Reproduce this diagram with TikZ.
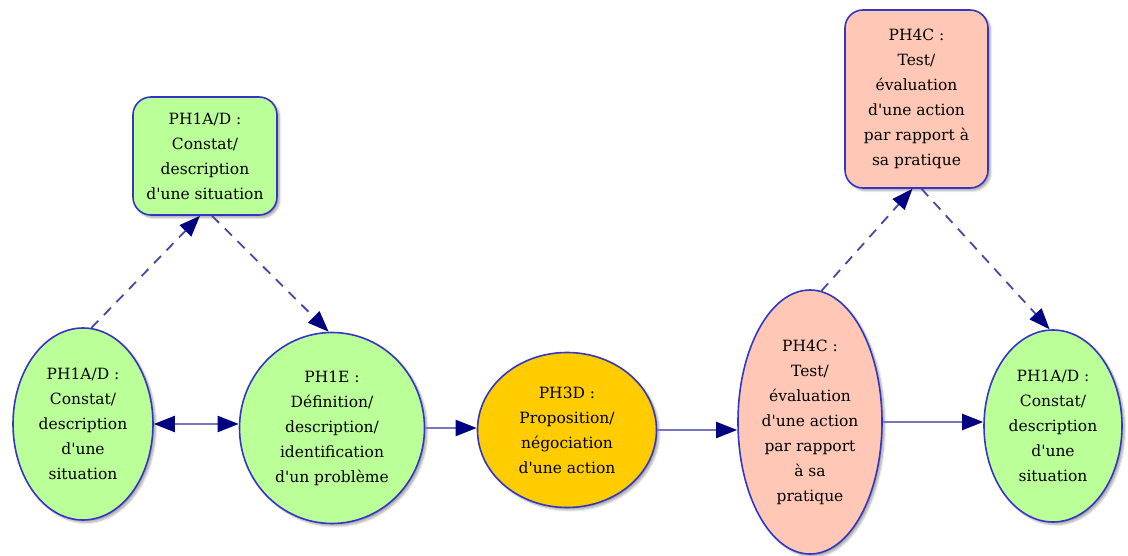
\documentclass[tikz,border=0pt]{standalone}
\usepackage{fontspec}
\setmainfont{DejaVu Serif}
\usetikzlibrary{shapes.geometric,arrows.meta,shadows.blur}
\definecolor{phgreen}{HTML}{BBFF99}
\definecolor{phorange}{HTML}{FFCC00}
\definecolor{phpink}{HTML}{FFC8B6}
\definecolor{phborder}{HTML}{3535C4}
\definecolor{phline}{HTML}{7676BC}
\definecolor{phdash}{HTML}{4848A0}
\definecolor{phhead}{HTML}{000080}
\newcommand{\apq}{\textquotesingle}
\tikzset{
  phase/.style={draw=phborder, line width=1.6pt, align=center,
    inner xsep=-20pt, inner ysep=-20pt,
    font=\fontsize{15.5}{25}\selectfont,
    blur shadow={shadow xshift=2.5pt, shadow yshift=-2.5pt,
      shadow blur steps=6, shadow opacity=35}},
  oval/.style={phase, ellipse},
  card/.style={phase, rectangle, rounded corners=18pt},
  head/.tip={Triangle[length=21pt,width=16pt,color=phhead]},
  flow/.style={draw=phline, line width=2pt, -head},
  both/.style={draw=phline, line width=2pt, head-head},
  link/.style={draw=phdash, line width=1.8pt, dash pattern=on 10pt off 8pt, -head}
}
\begin{document}
\begin{tikzpicture}[x=1pt,y=-1pt]
\useasboundingbox (0,0) rectangle (1128,556);

% lower row of phases
\node[oval, fill=phgreen, minimum width=140pt, minimum height=192pt] (L) at (83,424)
  {PH1A/D :\\Constat/\\description\\d\apq une\\situation};
\node[oval, fill=phgreen, minimum width=185pt, minimum height=191pt] (E) at (332,428)
  {PH1E :\\Définition/\\description/\\identification\\d\apq un problème};
\node[oval, fill=phorange, minimum width=179pt, minimum height=155pt] (P) at (567,430)
  {PH3D :\\Proposition/\\négociation\\d\apq une action};
\node[oval, fill=phpink, minimum width=144pt, minimum height=264pt] (T) at (810,422)
  {PH4C :\\Test/\\évaluation\\d\apq une action\\par rapport\\à sa\\pratique};
\node[oval, fill=phgreen, minimum width=138pt, minimum height=192pt] (R) at (1053,426)
  {PH1A/D :\\Constat/\\description\\d\apq une\\situation};

% upper cards
\node[card, fill=phgreen, minimum width=144pt, minimum height=118pt] (B1) at (205,156)
  {PH1A/D :\\Constat/\\description\\d\apq une situation};
\node[card, fill=phpink, minimum width=143pt, minimum height=178pt] (B2) at (916.5,99)
  {PH4C :\\Test/\\évaluation\\d\apq une action\\par rapport à\\sa pratique};

% main flow
\draw[both] (L.east) -- (L.east -| E.west);
\draw[flow] (E.east) -- (E.east -| P.west);
\draw[flow] (P.east) -- (P.east -| T.west);
\draw[flow] (T.east) -- (T.east -| R.west);

% dashed detours through the cards
\draw[link] (L.85) -- ([xshift=-5pt]B1.south);
\draw[link] ([xshift=7pt]B1.south) -- (E.92);
\draw[link] (T.85) -- ([xshift=-4pt]B2.south);
\draw[link] ([xshift=5pt]B2.south) -- (R.92);
\end{tikzpicture}
\end{document}
